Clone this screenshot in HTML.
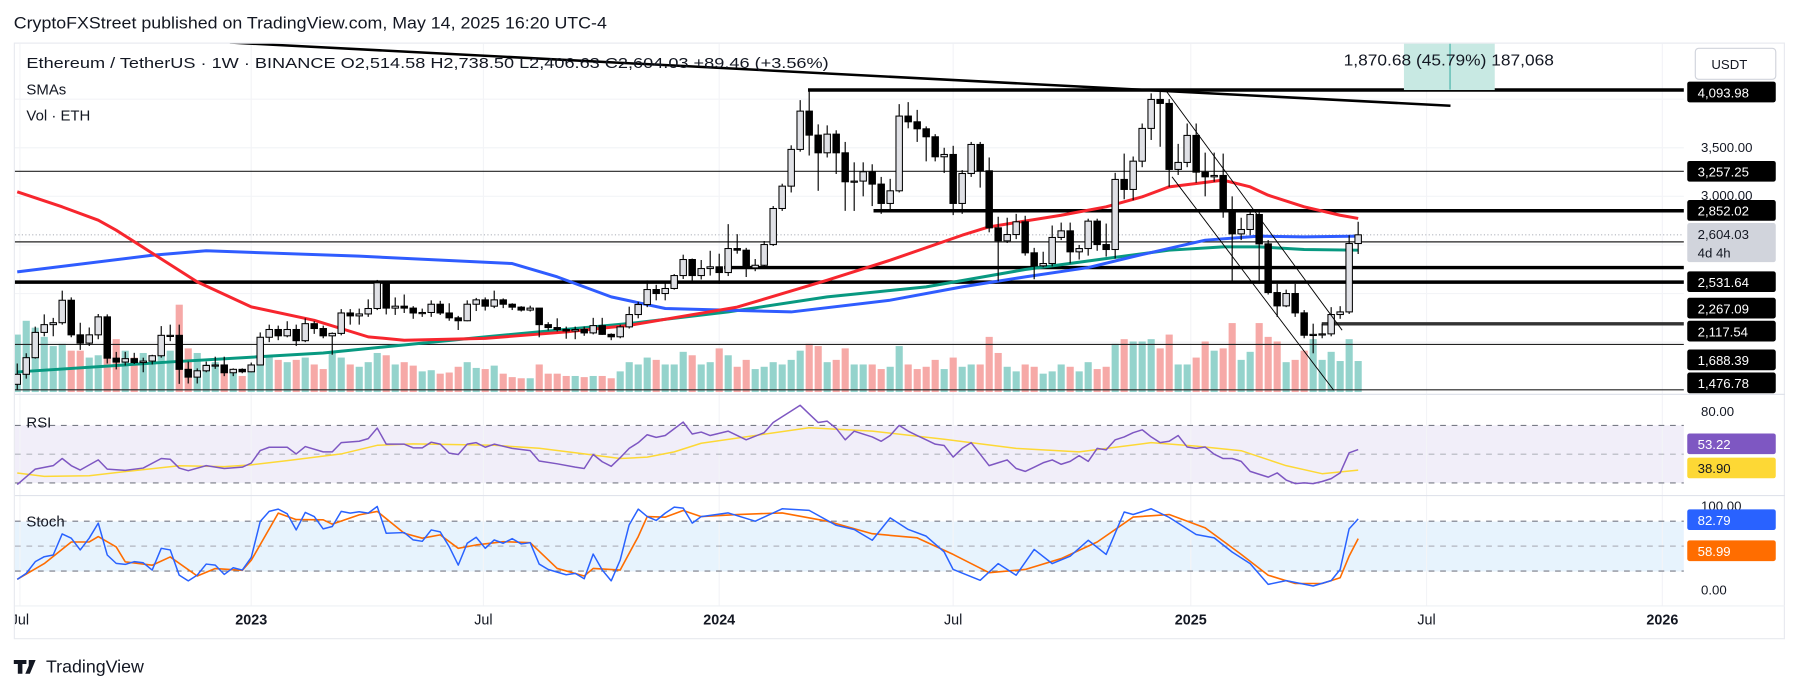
<!DOCTYPE html>
<html><head><meta charset="utf-8">
<style>
html,body{margin:0;padding:0;background:#fff;}
svg{display:block;font-family:"Liberation Sans",sans-serif;}
.ax{font-size:11.5px;fill:#131722;}
.lb{font-size:11.5px;fill:#fff;}
</style></head>
<body>
<svg id="chart" width="1793" height="691" viewBox="0 0 1560 601" preserveAspectRatio="none" xmlns="http://www.w3.org/2000/svg">
<defs><clipPath id="plotclip"><rect x="13" y="38" width="1452" height="517"/></clipPath>
<clipPath id="mainclip"><rect x="13" y="38" width="1452" height="305"/></clipPath></defs>
<text x="12" y="25" font-size="14.5" fill="#131722" textLength="516" lengthAdjust="spacingAndGlyphs">CryptoFXStreet published on TradingView.com, May 14, 2025 16:20 UTC-4</text>
<rect x="12.5" y="37.5" width="1540" height="518" fill="#fff" stroke="#e8eaef"/>
<rect x="13" y="370" width="1452" height="50" fill="#f1eef9"/>
<rect x="13" y="453.6" width="1452" height="43.4" fill="#e7f3fd"/>
<g id="grid"></g>
<g id="vol" clip-path="url(#mainclip)"></g>
<g id="hlines"></g>
<g id="smas" clip-path="url(#mainclip)"></g>
<g id="candles" clip-path="url(#mainclip)"></g>
<g id="drawings" clip-path="url(#mainclip)"></g>
<g id="osc"></g>
<line x1="13" y1="343" x2="1553" y2="343" stroke="#e0e3eb"/>
<line x1="13" y1="431" x2="1553" y2="431" stroke="#e0e3eb"/>
<line x1="13" y1="527" x2="1553" y2="527" stroke="#eef0f4"/>
<rect x="1221.5" y="38" width="79" height="40.3" fill="#c8e9e3"/>
<line x1="1261.6" y1="38" x2="1261.6" y2="78" stroke="#26a69a" stroke-width="0.8"/>
<text x="1169" y="57" font-size="14" fill="#131722" textLength="183" lengthAdjust="spacingAndGlyphs">1,870.68 (45.79%) 187,068</text>
<text x="23" y="59" font-size="13" fill="#131722" textLength="698" lengthAdjust="spacingAndGlyphs">Ethereum / TetherUS · 1W · BINANCE  O2,514.58  H2,738.50  L2,406.63  C2,604.03  +89.46 (+3.56%)</text>
<text x="23" y="82" font-size="13" fill="#131722">SMAs</text>
<text x="23" y="105" font-size="13" fill="#131722">Vol · ETH</text>
<text x="23" y="372" font-size="13" fill="#131722">RSI</text>
<text x="23" y="458" font-size="13" fill="#131722">Stoch</text>
<g>
<rect x="1468" y="71" width="77" height="18" rx="2" fill="#000"/><text class="lb" x="1477" y="85">4,093.98</text>
<rect x="1475" y="42" width="70" height="27" rx="3" fill="#fff" stroke="#d1d4dc"/><text class="ax" x="1489" y="60" font-size="12.5">USDT</text>
<text class="ax" x="1480" y="132">3,500.00</text>
<rect x="1468" y="140" width="77" height="18" rx="2" fill="#000"/><text class="lb" x="1477" y="153.5">3,257.25</text>
<text class="ax" x="1480" y="174">3,000.00</text>
<rect x="1468" y="174" width="77" height="18" rx="2" fill="#000"/><text class="lb" x="1477" y="187.5">2,852.02</text>
<rect x="1468" y="194" width="77" height="34" rx="2" fill="#d1d4dc"/><text class="ax" x="1477" y="208">2,604.03</text><text class="ax" x="1477" y="224">4d 4h</text>
<rect x="1468" y="236" width="77" height="18" rx="2" fill="#000"/><text class="lb" x="1477" y="249.5">2,531.64</text>
<rect x="1468" y="259" width="77" height="18" rx="2" fill="#000"/><text class="lb" x="1477" y="272.5">2,267.09</text>
<rect x="1468" y="279" width="77" height="18" rx="2" fill="#000"/><text class="lb" x="1477" y="292.5">2,117.54</text>
<rect x="1468" y="304" width="77" height="18" rx="2" fill="#000"/><text class="lb" x="1477" y="317.5">1,688.39</text>
<rect x="1468" y="324" width="77" height="18" rx="2" fill="#000"/><text class="lb" x="1477" y="337.5">1,476.78</text>
<text class="ax" x="1480" y="362">80.00</text>
<rect x="1468" y="377" width="77" height="18" rx="2" fill="#7e57c2"/><text class="lb" x="1477" y="390.5">53.22</text>
<rect x="1468" y="398" width="77" height="18" rx="2" fill="#fdd835"/><text class="ax" x="1477" y="411.5">38.90</text>
<text class="ax" x="1480" y="444">100.00</text>
<rect x="1468" y="443" width="77" height="18" rx="2" fill="#2962ff"/><text class="lb" x="1477" y="456.5">82.79</text>
<rect x="1468" y="470" width="77" height="18" rx="2" fill="#ff6d00"/><text class="lb" x="1477" y="483.5">58.99</text>
<text class="ax" x="1480" y="517">0.00</text>
</g>
<g id="timeaxis" font-size="12.5" fill="#131722"></g>
<g>
<path d="M12 574h11v3.5h-3.5v8.5h-4v-8.5H12z M25 574h6l-5 12h-4l3-7z" fill="#131722"/>
<text x="40" y="585" font-size="15.5" fill="#131722">TradingView</text>
</g>
<script>
const NS="http://www.w3.org/2000/svg";
const opens=[1066,1169,1340,1600,1680,1700,1931,1575,1490,1575,1760,1335,1295,1330,1290,1305,1360,1570,1570,1220,1140,1205,1260,1265,1185,1220,1195,1265,1550,1630,1565,1630,1515,1690,1640,1565,1590,1800,1770,1790,1846,2110,1850,1870,1850,1800,1805,1890,1800,1750,1720,1890,1935,1870,1935,1890,1860,1830,1850,1680,1650,1630,1615,1630,1595,1670,1580,1555,1657,1784,1887,2041,2000,2052,2185,2350,2185,2257,2275,2216,2463,2446,2264,2291,2504,2875,3105,3483,3877,3630,3448,3640,3448,3150,3157,3253,3126,2927,3057,3826,3767,3695,3613,3407,3431,2927,3235,3534,3263,2676,2542,2607,2738,2419,2285,2309,2577,2645,2429,2463,2745,2504,2453,3174,3071,3362,3699,3997,3956,3277,3349,3627,3249,3201,3215,2851,2614,2659,2813,2511,2010,1873,2000,1801,1571,1580,1585,1784,1811,2514.58];
const closes=[1169,1340,1600,1680,1700,1931,1575,1490,1575,1760,1335,1295,1330,1290,1305,1360,1570,1570,1220,1140,1205,1260,1265,1185,1220,1195,1265,1550,1630,1565,1630,1515,1690,1640,1565,1590,1800,1770,1790,1846,2110,1850,1870,1850,1800,1805,1890,1800,1750,1720,1890,1935,1870,1935,1890,1860,1830,1850,1680,1650,1630,1615,1630,1595,1670,1580,1555,1657,1784,1887,2041,2000,2052,2185,2350,2185,2257,2275,2216,2463,2446,2264,2291,2504,2875,3105,3483,3877,3630,3448,3640,3448,3150,3157,3253,3126,2927,3057,3826,3767,3695,3613,3407,3431,2927,3235,3534,3263,2676,2542,2607,2738,2419,2285,2309,2577,2645,2429,2463,2745,2504,2453,3174,3071,3362,3699,3997,3956,3277,3349,3627,3249,3201,3215,2851,2614,2659,2813,2511,2010,1873,2000,1801,1571,1580,1585,1784,1811,2514.58,2604.03];
const highs=[1280,1385,1660,1785,1750,2030,1960,1700,1650,1790,1785,1400,1400,1390,1340,1370,1665,1680,1680,1300,1230,1300,1350,1350,1230,1230,1290,1600,1680,1670,1715,1680,1745,1715,1670,1600,1840,1840,1845,1940,2140,2130,1960,1990,1870,1845,1930,1925,1900,1770,1930,1955,1960,2030,1950,1900,1870,1875,1850,1705,1745,1660,1660,1660,1750,1750,1590,1680,1865,1915,2135,2090,2130,2200,2400,2360,2345,2440,2410,2714,2611,2470,2355,2540,2900,3130,3525,3990,4093.98,3740,3730,3680,3560,3350,3350,3330,3200,3180,3949,3970,3890,3720,3640,3500,3520,3270,3560,3560,3400,2790,2780,2820,2800,2470,2430,2700,2730,2730,2500,2770,2770,2720,3242,3440,3410,3750,4059,4093,4000,3540,3750,3750,3450,3450,3440,3000,2780,2850,2850,2550,2100,2040,2100,1830,1690,1690,1860,1870,2600,2738.5];
const lows=[1010,1125,1330,1560,1560,1680,1550,1420,1460,1530,1280,1220,1260,1275,1190,1270,1340,1510,1070,1075,1075,1190,1225,1150,1150,1180,1190,1260,1500,1520,1550,1460,1500,1585,1540,1370,1570,1680,1680,1760,1830,1785,1780,1800,1740,1760,1760,1780,1720,1625,1715,1820,1825,1850,1850,1830,1815,1815,1550,1620,1610,1535,1530,1565,1580,1575,1520,1540,1640,1745,1860,1930,1930,2040,2150,2115,2145,2185,2100,2180,2410,2170,2230,2280,2490,2850,3040,3460,3420,3057,3400,3230,2851,2850,3000,2900,2820,2860,3040,3700,3560,3360,3360,3240,2807,2820,3200,3090,2630,2127,2520,2560,2390,2147,2270,2280,2550,2310,2350,2390,2440,2380,2360,2970,2960,3300,3580,3510,3098,3220,3300,3140,3000,3150,2780,2116,2550,2600,2100,1990,1760,1860,1760,1540,1385,1540,1560,1740,1790,2406.63];
const volumes=[5.0,6.2,5.6,4.8,4.0,4.2,3.6,3.6,3.0,3.2,5.5,4.6,3.6,3.0,3.4,2.6,4.4,3.6,7.6,3.8,3.4,2.4,2.6,2.2,1.8,1.4,1.8,3.4,3.2,2.8,2.6,2.8,3.0,2.4,2.0,3.5,3.0,2.4,2.2,2.6,3.4,3.2,2.4,2.6,2.3,1.8,1.9,1.6,1.7,2.2,2.6,2.1,2.0,2.3,1.6,1.3,1.2,1.2,2.4,1.6,1.6,1.4,1.4,1.3,1.4,1.4,1.2,1.8,2.6,2.4,3.0,2.8,2.4,2.4,3.5,3.2,2.4,2.6,3.8,3.2,2.2,2.8,2.0,2.2,2.6,2.4,2.8,3.6,4.2,4.0,2.6,2.8,3.8,2.4,2.4,2.4,2.0,2.2,4.0,2.4,2.0,2.2,2.8,2.0,3.0,2.2,2.4,2.4,4.8,3.4,2.2,1.8,2.4,2.2,1.6,1.8,2.4,2.2,1.8,2.6,2.0,2.2,4.2,4.6,4.4,4.4,4.6,3.8,5.0,2.4,2.4,3.0,4.4,3.6,3.8,6.0,2.8,3.5,6.0,4.8,4.4,2.6,2.8,3.6,4.6,2.8,3.5,2.7,4.6,2.7];
const sma50Idx=[0,5,9,11,20,26,33,39,43,52,61,68,80,90,97,105,108,116,121,125,128,134,137,139,143,147,149];
const sma50Val=[3047,2892,2755,2652,2120,1863,1725,1554,1520,1539,1605,1672,1860,2137,2343,2600,2686,2806,2892,2995,3098,3167,3098,3012,2892,2806,2772];
const sma100Idx=[0,15,21,38,55,60,66,72,86,97,105,112,119,124,132,138,143,149];
const sma100Val=[2223,2394,2440,2384,2309,2172,1966,1846,1811,1931,2069,2172,2268,2380,2549,2590,2583,2590];
const sma200Idx=[0,17,34,52,68,79,90,101,112,123,128,134,138,143,149];
const sma200Val=[1193,1296,1388,1554,1691,1811,1966,2069,2247,2384,2446,2480,2480,2453,2446];
const rsiIdx=[0,2,4,5,6,7,9,10,12,14,16,17,18,19,21,23,25,26,27,28,30,31,32,34,35,36,38,39,40,41,43,44,45,46,47,48,49,50,51,52,53,55,57,58,60,62,63,64,65,66,67,68,69,70,71,72,73,74,75,76,77,79,81,83,84,85,86,87,88,89,90,91,92,93,94,95,96,97,98,99,100,101,102,103,104,105,106,107,108,109,110,111,112,113,114,115,116,117,118,119,120,121,122,123,124,125,126,127,128,129,130,131,132,133,134,135,136,137,138,139,140,141,142,143,144,145,146,147,148,149];
const rsiVal=[28.8,39.6,42,47,42,39,46,39.6,38.7,40.3,47,46.5,40.3,38.5,42,40,41,43.8,52.5,54.8,54.8,50.2,55.3,51.6,51.6,58,59,60.8,68.2,57,57,54.4,54.4,58.3,57,50.7,49.8,57,58,54.8,57,54,52.5,45.2,43.3,41,40,49.8,44.7,41.5,47.5,54,58,63.5,61.7,63,67.7,72.3,64,65.4,63,66,60,65,72,76,80,84,78,72,73,68,60,66,64,62,59,63,70,66,63,60,57,56,48,54,58,50,42,44,46,40,38,41,44,46,43,45,49,45,54,53,60,62,65,67,62,58,59,63,55,54,55,50,47,47,45,38,36,34,37,32,29.5,30,29.5,31,33,37,51,53.22];
const rsiMaIdx=[0,3,8,13,18,23,26,30,36,40,44,53,58,63,67,70,73,76,88,95,103,111,118,126,131,136,141,145,149];
const rsiMaVal=[36.9,34.6,35,38.6,41.9,41.4,42.6,45.5,50.2,56.2,57.1,56.2,54.1,50.2,47,47.9,51.6,57.6,68.4,66,60.4,54,51.6,58,55.6,52.4,42,36.4,38.9];
const stochKIdx=[0,1,2,3,4,5,6,7,8,9,10,11,12,13,14,15,16,17,18,19,20,21,22,23,24,25,26,27,28,29,30,31,32,33,34,35,36,37,38,39,40,41,43,44,45,46,47,48,49,50,51,52,53,54,55,56,57,58,59,60,61,62,63,64,65,66,67,68,69,70,71,72,73,74,75,76,79,82,85,88,91,93,95,97,99,101,103,104,107,109,111,113,115,117,119,121,123,124,126,128,131,133,135,137,139,141,144,146,147,148,149];
const stochKVal=[10,17.2,31.3,37.3,39.3,64.7,59.5,45.4,59.5,77.6,39.3,29.3,28,31.3,30,21.2,47.4,45.4,15.2,8.3,15.2,28.5,27.2,16,24,21.2,36.5,79.6,91.7,94.5,88.9,69.5,90.5,85.6,70.7,73.6,91.7,89.7,91.3,89.7,97.7,65.5,66.3,57.4,55.8,69.5,67.1,49.4,27.2,53.4,60.7,47.4,57.4,53.4,59,52.6,54.2,28.5,22,18.8,15.6,17.2,10.7,40.5,21.2,8.3,33.3,75.6,94.5,85.6,80.8,89.7,96.9,95.7,77.6,85.6,90,80,95,93,75,70,57,84,70,62,43,22,9,29,15,46,29,38,57,40,91,88,95,84.5,64,60,43,29,4,8.5,2,8.5,22,70.7,82.79];
const stochDIdx=[0,3,6,8,9,11,12,15,17,20,22,25,26,29,31,34,35,38,40,43,45,47,49,51,54,57,60,63,64,67,69,70,72,74,76,80,85,90,95,100,104,108,112,116,120,124,128,132,136,139,142,145,147,148,149];
const stochDVal=[10,29,55,55,61.5,49,31,27,37,14,23,21,33,89.7,82,81.6,76.4,87.6,91.7,65.5,59.5,63.5,47.4,51.4,55.4,54.2,23.2,14,23.2,21.2,61.5,85.6,84.8,92.9,85.6,88,90,80,65,60,40,18,22,35,55,85,88,72,40,15,5,5,12,38,58.99];
const timeLabels=["Jul","2023","Jul","2024","Jul","2025","Jul","2026"];
const timeWeeks=[0.3,26,51.8,78,104,130.4,156.6,182.8];
const xOf=i=>15+7.83*i;
const yP=p=>78.3+(4093.98-p)/11.83;
const yV=v=>341-v*10;
const yR=v=>395-1.25*(v-50);
const yS=v=>475-0.7233*(v-50);
function mk(tag,attrs,parent){const e=document.createElementNS(NS,tag);for(const k in attrs)e.setAttribute(k,attrs[k]);parent.appendChild(e);return e;}
const grid=document.getElementById('grid');
[4000,3500,3000,2500,2000,1500].forEach(p=>{const l=mk('line',{x1:13,x2:1465,y1:yP(p),y2:yP(p),stroke:'#f3f4f7'},grid);

});
timeWeeks.forEach(w=>{const l=mk('line',{x1:xOf(w),x2:xOf(w),y1:38,y2:527,stroke:'#f3f4f7'},grid);

});
const vg=document.getElementById('vol');
volumes.forEach((v,i)=>{const up=closes[i]>=opens[i];const r=mk('rect',{x:xOf(i)-3.1,y:yV(v),width:6.2,height:341-yV(v),fill:up?'#94d3cc':'#f6a9a7'},vg);

});
const hg=document.getElementById('hlines');
function hl(p,x1,w,col,name){const l=mk('line',{x1:x1,x2:1465,y1:yP(p),y2:yP(p),stroke:col,'stroke-width':w},hg);

}
hl(4093.98,703,3,'#000','level-4093');
hl(3257.25,13,1,'#222','level-3257');
hl(2852.02,760,3,'#000','level-2852');
hl(2531.64,13,1,'#222','level-2531');
hl(2267.09,630,3,'#000','level-2267');
hl(2117.54,13,3,'#000','level-2117');
hl(1688.39,1150,3,'#333','level-1688');
hl(1476.78,13,1,'#222','level-1476');
const cur=mk('line',{x1:13,x2:1465,y1:yP(2604.03),y2:yP(2604.03),stroke:'#b2b5be','stroke-dasharray':'1 2'},hg);


const vb=mk('line',{x1:13,x2:1465,y1:339,y2:339,stroke:'#222','stroke-width':1},hg);


const sg=document.getElementById('smas');
function line(idx,vals,ys,col,w,parent,name){const pts=idx.map((k,j)=>xOf(k).toFixed(1)+','+ys(vals[j]).toFixed(1)).join(' ');
const pl=mk('polyline',{points:pts,fill:'none',stroke:col,'stroke-width':w,'stroke-linejoin':'round'},parent);

}
line(sma200Idx,sma200Val,yP,'#089981',2.6,sg,'sma-200-line');
line(sma100Idx,sma100Val,yP,'#2f5cff',2.6,sg,'sma-100-line');
line(sma50Idx,sma50Val,yP,'#f7262e',2.6,sg,'sma-50-line');
const cg=document.getElementById('candles');
closes.forEach((c,i)=>{const o=opens[i],x=xOf(i);const up=c>=o;
const w=mk('line',{x1:x,x2:x,y1:yP(highs[i]),y2:yP(lows[i]),stroke:'#000','stroke-width':1},cg);


const top=yP(Math.max(o,c)),bot=yP(Math.min(o,c));
const b=mk('rect',{x:x-2.8,y:top,width:5.6,height:Math.max(1,bot-top),fill:up?'#e0e1e6':'#000',stroke:'#000','stroke-width':0.9},cg);

});
const dg=document.getElementById('drawings');
function seg(x1,y1,x2,y2,w,name){const l=mk('line',{x1:x1,y1:y1,x2:x2,y2:y2,stroke:'#000','stroke-width':w},dg);

}
seg(200,37,1262,92,2.2,'descending-resistance-trendline');
seg(1014,78.3,1167.7,287.2,0.8,'channel-upper-line');
seg(1019.7,153.8,1160.4,339.4,0.8,'channel-lower-line');
const og=document.getElementById('osc');
function dash(y,col,name){const l=mk('line',{x1:13,x2:1465,y1:y,y2:y,stroke:col,'stroke-dasharray':'5 5'},og);

}
dash(yR(70),'#787b86','rsi-upper-band');dash(yR(50),'#b2b5be','rsi-mid-band');dash(yR(30),'#787b86','rsi-lower-band');
dash(yS(80),'#787b86','stoch-upper-band');dash(yS(50),'#b2b5be','stoch-mid-band');dash(yS(20),'#787b86','stoch-lower-band');
line(rsiMaIdx,rsiMaVal,yR,'#fdd835',1.3,og,'rsi-ma-line');
line(rsiIdx,rsiVal,yR,'#7e57c2',1.3,og,'rsi-line');
line(stochDIdx,stochDVal,yS,'#ff6d00',1.4,og,'stoch-d-line');
line(stochKIdx,stochKVal,yS,'#2962ff',1.3,og,'stoch-k-line');
const tg=document.getElementById('timeaxis');
const tclip=mk('g',{'clip-path':'url(#plotclip)'},tg);
timeLabels.forEach((t,j)=>{const e=mk('text',{x:xOf(timeWeeks[j]),y:543,'text-anchor':'middle','font-weight':/^\d/.test(t)?'bold':'normal'},tclip);
e.textContent=t;

});
</script>
</svg>
</body></html>
